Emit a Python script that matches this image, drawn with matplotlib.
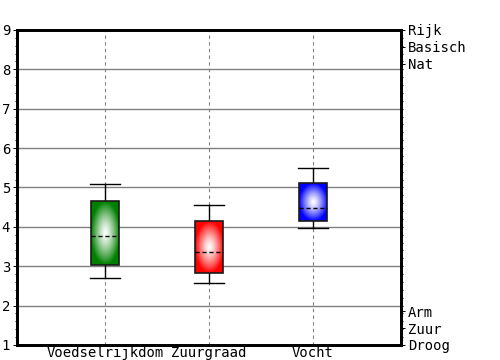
import matplotlib
matplotlib.use('Agg')
import matplotlib.pyplot as plt
import numpy as np
from matplotlib.colors import to_rgb

plt.rcParams['font.family'] = ['DejaVu Sans Mono']

# Box statistics per indicator (Ellenberg-like scale 1-9)
categories = ['Voedselrijkdom', 'Zuurgraad', 'Vocht']
medians = [3.77, 3.36, 4.48]
q1s = [3.03, 2.83, 4.15]
q3s = [4.65, 4.15, 5.11]
whis_lo = [2.70, 2.57, 3.97]
whis_hi = [5.09, 4.55, 5.49]
colors = ['#008000', '#ff0000', '#0000ff']

# right-hand scale labels
right_labels = ['Rijk', 'Basisch', 'Nat', 'Arm', 'Zuur', 'Droog']
right_pos = [9.0, 8.57, 8.14, 1.86, 1.43, 1.0]

fig = plt.figure(figsize=(5, 3.6), dpi=100)
ax = fig.add_axes([0.034, 0.0417, 0.768, 0.875])

positions = np.arange(1, len(categories) + 1)
stats = []
for i, name in enumerate(categories):
    stats.append({'med': medians[i], 'q1': q1s[i], 'q3': q3s[i],
                  'whislo': whis_lo[i], 'whishi': whis_hi[i], 'fliers': [], 'label': name})

bp = ax.bxp(stats, positions=positions, widths=0.27, capwidths=0.29, patch_artist=True,
            showfliers=False,
            boxprops=dict(edgecolor='#1a1a1a', linewidth=1.2),
            whiskerprops=dict(color='black', linewidth=1),
            capprops=dict(color='black', linewidth=1),
            medianprops=dict(color='black', linewidth=1, linestyle=(0, (3, 2))))

# radial white-to-colour gradient inside each box
n = 100
yy, xx = np.mgrid[-1:1:n * 1j, -1:1:n * 1j]
r = np.clip(np.sqrt(xx ** 2 + yy ** 2), 0, 1)
for i, patch in enumerate(bp['boxes']):
    patch.set_facecolor('none')
    c = np.array(to_rgb(colors[i]))
    t = (r ** 1.3)[..., None]
    img = (1 - t) * np.ones(3) + t * c
    x0 = positions[i] - 0.135
    im = ax.imshow(img, extent=[x0, x0 + 0.27, q1s[i], q3s[i]], aspect='auto',
                   origin='lower', zorder=2, interpolation='bilinear')
    im.set_clip_path(patch)
    patch.set_zorder(3)
for m in bp['medians']:
    m.set_zorder(4)

ax.set_xlim(0.154, 3.846)
ax.set_ylim(1, 9)
ax.set_yticks(range(1, 10))
ax.set_yticks(np.arange(1, 9.01, 0.2), minor=True)
ax.set_xticks(positions)
ax.set_xticklabels(categories, fontsize=10)
ax.tick_params(axis='x', length=0, pad=1)
ax.tick_params(axis='y', which='major', length=3, width=0.7, pad=2, labelsize=10, direction='out')
ax.tick_params(axis='y', which='minor', length=1.5, width=0.7, direction='out')

ax.grid(axis='y', color='#808080', linewidth=1, linestyle='-', zorder=0)
ax.grid(axis='x', color='#808080', linewidth=0.8, linestyle=(0, (3, 3)), zorder=0)
ax.set_axisbelow(True)
for s in ax.spines.values():
    s.set_linewidth(2)
    s.set_color('black')

ax2 = ax.twinx()
ax2.set_ylim(1, 9)
ax2.set_yticks(right_pos)
ax2.set_yticklabels(right_labels, fontsize=10)
ax2.set_yticks(np.arange(1, 9.01, 0.2), minor=True)
ax2.tick_params(axis='y', which='major', length=3, width=0.7, pad=2)
ax2.tick_params(axis='y', which='minor', length=1.5, width=0.7)
for s in ax2.spines.values():
    s.set_linewidth(2)

fig.savefig('out.png', dpi=100)
plt.close(fig)
